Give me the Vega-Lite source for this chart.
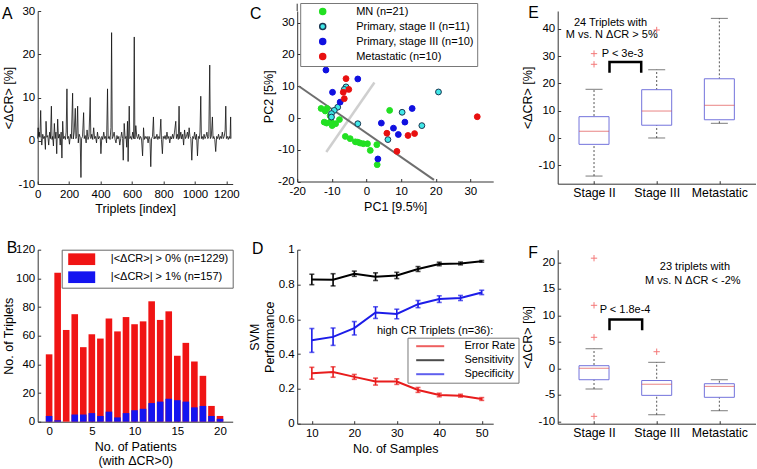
{
"$schema": "https://vega.github.io/schema/vega-lite/v6.json",
"padding": {"left": 1.7, "top": 2, "right": 0, "bottom": 0},
"autosize": {"type": "pad"},
"config": {
  "font": "Liberation Sans",
  "locale": {"number": {"decimal": ".", "thousands": ",", "grouping": [3], "currency": ["$", ""], "minus": "-"}},
  "view": {"stroke": null},
  "axis": {"grid": false, "domainColor": "#333", "tickColor": "#333", "labelColor": "#000", "titleColor": "#000", "labelFontSize": 11.5, "titleFontSize": 12.5, "titleFontWeight": "normal", "tickSize": -3, "labelPadding": 7, "titlePadding": 3, "labelFlush": false, "labelOverlap": false, "labelBound": false, "labelFont": "Liberation Sans", "titleFont": "Liberation Sans"},
  "axisY": {"labelPadding": 6},
  "legend": {"labelFont": "Liberation Sans", "labelFontSize": 11, "labelColor": "#000"},
  "text": {"font": "Liberation Sans", "color": "#000"}
},
"datasets": {
  "one": [{}],
  "a": [
    {"i":0,"v":0.5},{"i":3,"v":3},{"i":6,"v":1},{"i":10,"v":2},{"i":14,"v":0.8},{"i":19,"v":7},{"i":23,"v":0.5},{"i":26,"v":-1},{"i":32,"v":1.5},{"i":38,"v":0.5},{"i":44,"v":1},{"i":49,"v":-2},{"i":53,"v":4.5},{"i":58,"v":0.8},{"i":64,"v":1.2},{"i":70,"v":-1},{"i":76,"v":2},{"i":81,"v":0.5},{"i":87,"v":8},{"i":91,"v":0.3},{"i":95,"v":1},{"i":100,"v":-1.2},{"i":106,"v":4},{"i":111,"v":0.5},{"i":116,"v":2},{"i":121,"v":-3},{"i":127,"v":5},{"i":132,"v":0.6},{"i":138,"v":1.5},{"i":143,"v":-1},{"i":149,"v":2},{"i":154,"v":-4},{"i":159,"v":4.5},{"i":164,"v":0.5},{"i":170,"v":1},{"i":176,"v":0.3},{"i":181,"v":2},{"i":186,"v":12},{"i":190,"v":0.5},{"i":196,"v":1},{"i":202,"v":-0.8},{"i":208,"v":1.5},{"i":214,"v":0.5},{"i":222,"v":11},{"i":226,"v":0.4},{"i":232,"v":2},{"i":239,"v":7.5},{"i":243,"v":0.5},{"i":248,"v":1},{"i":254,"v":8},{"i":258,"v":-0.5},{"i":264,"v":1.5},{"i":270,"v":0.8},{"i":275,"v":-8.5},{"i":279,"v":0.5},{"i":285,"v":1},{"i":292,"v":6.5},{"i":296,"v":0.5},{"i":302,"v":1.2},{"i":308,"v":-0.5},{"i":314,"v":2.5},{"i":320,"v":0.3},{"i":326,"v":1},{"i":334,"v":10},{"i":338,"v":0.5},{"i":344,"v":1.5},{"i":350,"v":0.3},{"i":356,"v":3},{"i":362,"v":0.5},{"i":368,"v":1},{"i":374,"v":-0.5},{"i":380,"v":2},{"i":386,"v":0.4},{"i":392,"v":1},{"i":398,"v":0.5},{"i":402,"v":-3},{"i":408,"v":1},{"i":414,"v":0.3},{"i":420,"v":2},{"i":426,"v":0.5},{"i":432,"v":1},{"i":438,"v":-0.5},{"i":444,"v":12},{"i":448,"v":0.5},{"i":454,"v":1},{"i":460,"v":0.3},{"i":466,"v":3},{"i":470,"v":25},{"i":474,"v":0.5},{"i":480,"v":1},{"i":486,"v":2},{"i":492,"v":0.3},{"i":498,"v":-0.5},{"i":504,"v":1.2},{"i":510,"v":0.4},{"i":516,"v":1},{"i":522,"v":-1},{"i":528,"v":0.5},{"i":534,"v":2},{"i":540,"v":0.5},{"i":544,"v":-4.5},{"i":550,"v":4},{"i":556,"v":0.5},{"i":562,"v":1},{"i":566,"v":-1.5},{"i":571,"v":4.5},{"i":575,"v":-4.8},{"i":582,"v":8},{"i":586,"v":0.5},{"i":592,"v":1},{"i":598,"v":0.3},{"i":604,"v":2},{"i":610,"v":0.5},{"i":614,"v":24},{"i":618,"v":0.4},{"i":624,"v":3.5},{"i":630,"v":1},{"i":636,"v":0.5},{"i":642,"v":1.5},{"i":648,"v":0.3},{"i":654,"v":1},{"i":660,"v":0.5},{"i":667,"v":-3.5},{"i":673,"v":3},{"i":678,"v":0.3},{"i":684,"v":1},{"i":690,"v":0.5},{"i":696,"v":1},{"i":702,"v":-0.5},{"i":708,"v":1},{"i":714,"v":0.3},{"i":719,"v":-6},{"i":724,"v":0.5},{"i":730,"v":1},{"i":736,"v":5.5},{"i":740,"v":0.4},{"i":746,"v":1},{"i":752,"v":0.5},{"i":758,"v":1.5},{"i":764,"v":0.3},{"i":770,"v":1},{"i":776,"v":0.5},{"i":783,"v":5},{"i":787,"v":0.3},{"i":793,"v":-3},{"i":798,"v":1},{"i":804,"v":0.5},{"i":810,"v":1.2},{"i":816,"v":0.3},{"i":822,"v":2},{"i":828,"v":0.5},{"i":834,"v":1},{"i":840,"v":-0.5},{"i":846,"v":1},{"i":852,"v":0.4},{"i":858,"v":1.5},{"i":864,"v":0.5},{"i":870,"v":2},{"i":878,"v":4.5},{"i":882,"v":0.5},{"i":888,"v":1.5},{"i":894,"v":0.3},{"i":899,"v":8},{"i":903,"v":0.5},{"i":910,"v":2},{"i":916,"v":0.4},{"i":922,"v":1.5},{"i":928,"v":-1},{"i":934,"v":2.5},{"i":940,"v":0.5},{"i":946,"v":1},{"i":952,"v":2},{"i":958,"v":0.5},{"i":963,"v":3},{"i":968,"v":1},{"i":974,"v":0.5},{"i":980,"v":-4.5},{"i":986,"v":1},{"i":992,"v":0.5},{"i":998,"v":2},{"i":1004,"v":0.3},{"i":1010,"v":1.5},{"i":1016,"v":-3.5},{"i":1022,"v":1},{"i":1028,"v":0.5},{"i":1032,"v":2},{"i":1037,"v":10.3},{"i":1041,"v":0.5},{"i":1046,"v":1},{"i":1052,"v":0.3},{"i":1058,"v":1.5},{"i":1064,"v":0.5},{"i":1070,"v":1},{"i":1076,"v":2},{"i":1082,"v":0.5},{"i":1088,"v":1},{"i":1094,"v":17.5},{"i":1098,"v":0.5},{"i":1104,"v":1},{"i":1111,"v":5.5},{"i":1115,"v":0.5},{"i":1120,"v":1},{"i":1126,"v":0.3},{"i":1132,"v":-2.5},{"i":1138,"v":1},{"i":1144,"v":0.5},{"i":1150,"v":1.5},{"i":1156,"v":0.3},{"i":1162,"v":1},{"i":1168,"v":0.5},{"i":1174,"v":2},{"i":1180,"v":0.5},{"i":1186,"v":1},{"i":1192,"v":2.5},{"i":1196,"v":8},{"i":1200,"v":0.5},{"i":1206,"v":1},{"i":1212,"v":0.3},{"i":1218,"v":1},{"i":1223,"v":0.5},{"i":1227,"v":5.5},{"i":1229,"v":0.5}
  ],
  "b": [
    {"p":0,"g":"|<ΔCR>| > 0% (n=1229)","n":47},{"p":1,"g":"|<ΔCR>| > 0% (n=1229)","n":104},{"p":2,"g":"|<ΔCR>| > 0% (n=1229)","n":64},{"p":3,"g":"|<ΔCR>| > 0% (n=1229)","n":75},{"p":4,"g":"|<ΔCR>| > 0% (n=1229)","n":52},{"p":5,"g":"|<ΔCR>| > 0% (n=1229)","n":61},{"p":6,"g":"|<ΔCR>| > 0% (n=1229)","n":58},{"p":7,"g":"|<ΔCR>| > 0% (n=1229)","n":72},{"p":8,"g":"|<ΔCR>| > 0% (n=1229)","n":63},{"p":9,"g":"|<ΔCR>| > 0% (n=1229)","n":73},{"p":10,"g":"|<ΔCR>| > 0% (n=1229)","n":68},{"p":11,"g":"|<ΔCR>| > 0% (n=1229)","n":70},{"p":12,"g":"|<ΔCR>| > 0% (n=1229)","n":84},{"p":13,"g":"|<ΔCR>| > 0% (n=1229)","n":71},{"p":14,"g":"|<ΔCR>| > 0% (n=1229)","n":77},{"p":15,"g":"|<ΔCR>| > 0% (n=1229)","n":46},{"p":16,"g":"|<ΔCR>| > 0% (n=1229)","n":55},{"p":17,"g":"|<ΔCR>| > 0% (n=1229)","n":42},{"p":18,"g":"|<ΔCR>| > 0% (n=1229)","n":32},{"p":19,"g":"|<ΔCR>| > 0% (n=1229)","n":11},{"p":20,"g":"|<ΔCR>| > 0% (n=1229)","n":4},
    {"p":0,"g":"|<ΔCR>| > 1% (n=157)","n":4},{"p":1,"g":"|<ΔCR>| > 1% (n=157)","n":1},{"p":2,"g":"|<ΔCR>| > 1% (n=157)","n":0},{"p":3,"g":"|<ΔCR>| > 1% (n=157)","n":5},{"p":4,"g":"|<ΔCR>| > 1% (n=157)","n":5},{"p":5,"g":"|<ΔCR>| > 1% (n=157)","n":6},{"p":6,"g":"|<ΔCR>| > 1% (n=157)","n":4},{"p":7,"g":"|<ΔCR>| > 1% (n=157)","n":7},{"p":8,"g":"|<ΔCR>| > 1% (n=157)","n":3},{"p":9,"g":"|<ΔCR>| > 1% (n=157)","n":6},{"p":10,"g":"|<ΔCR>| > 1% (n=157)","n":8},{"p":11,"g":"|<ΔCR>| > 1% (n=157)","n":9},{"p":12,"g":"|<ΔCR>| > 1% (n=157)","n":13},{"p":13,"g":"|<ΔCR>| > 1% (n=157)","n":14},{"p":14,"g":"|<ΔCR>| > 1% (n=157)","n":16},{"p":15,"g":"|<ΔCR>| > 1% (n=157)","n":15},{"p":16,"g":"|<ΔCR>| > 1% (n=157)","n":14},{"p":17,"g":"|<ΔCR>| > 1% (n=157)","n":10},{"p":18,"g":"|<ΔCR>| > 1% (n=157)","n":11},{"p":19,"g":"|<ΔCR>| > 1% (n=157)","n":4},{"p":20,"g":"|<ΔCR>| > 1% (n=157)","n":2}
  ],
  "c": [
    {"x":-13.1,"y":3.0,"g":"MN (n=21)"},{"x":-11.4,"y":3.0,"g":"MN (n=21)"},{"x":-10.5,"y":0.7,"g":"MN (n=21)"},{"x":-12.2,"y":-1.3,"g":"MN (n=21)"},{"x":-11.5,"y":-1.6,"g":"MN (n=21)"},{"x":-9.9,"y":-2.4,"g":"MN (n=21)"},{"x":-10.2,"y":-1.0,"g":"MN (n=21)"},{"x":-7.8,"y":-0.5,"g":"MN (n=21)"},{"x":-6.1,"y":-5.8,"g":"MN (n=21)"},{"x":-4.7,"y":-6.5,"g":"MN (n=21)"},{"x":-3.2,"y":-7.5,"g":"MN (n=21)"},{"x":-1.8,"y":-7.9,"g":"MN (n=21)"},{"x":-0.9,"y":-8.1,"g":"MN (n=21)"},{"x":0.3,"y":-8.1,"g":"MN (n=21)"},{"x":1.1,"y":-10.2,"g":"MN (n=21)"},{"x":3.0,"y":-8.4,"g":"MN (n=21)"},{"x":3.1,"y":-14.7,"g":"MN (n=21)"},{"x":6.7,"y":2.4,"g":"MN (n=21)"},{"x":-11.9,"y":2.2,"g":"MN (n=21)"},{"x":-2.5,"y":-7.6,"g":"MN (n=21)"},{"x":-8.9,"y":-1.8,"g":"MN (n=21)"},
    {"x":-5.9,"y":9.8,"g":"Primary, stage II (n=11)"},{"x":-6.4,"y":9.0,"g":"Primary, stage II (n=11)"},{"x":-8.3,"y":3.4,"g":"Primary, stage II (n=11)"},{"x":-9.3,"y":2.4,"g":"Primary, stage II (n=11)"},{"x":-10.1,"y":1.4,"g":"Primary, stage II (n=11)"},{"x":-10.1,"y":0.3,"g":"Primary, stage II (n=11)"},{"x":-2.5,"y":-1.8,"g":"Primary, stage II (n=11)"},{"x":6.2,"y":-6.8,"g":"Primary, stage II (n=11)"},{"x":20.8,"y":8.2,"g":"Primary, stage II (n=11)"},{"x":10.3,"y":1.8,"g":"Primary, stage II (n=11)"},{"x":16.0,"y":-2.4,"g":"Primary, stage II (n=11)"},
    {"x":-11.7,"y":15.1,"g":"Primary, stage III (n=10)"},{"x":-2.5,"y":12.3,"g":"Primary, stage III (n=10)"},{"x":-9.8,"y":8.1,"g":"Primary, stage III (n=10)"},{"x":-7.6,"y":5.0,"g":"Primary, stage III (n=10)"},{"x":3.3,"y":-12.9,"g":"Primary, stage III (n=10)"},{"x":13.2,"y":3.0,"g":"Primary, stage III (n=10)"},{"x":4.3,"y":-1.6,"g":"Primary, stage III (n=10)"},{"x":11.1,"y":-1.3,"g":"Primary, stage III (n=10)"},{"x":7.8,"y":-3.2,"g":"Primary, stage III (n=10)"},{"x":9.2,"y":-5.2,"g":"Primary, stage III (n=10)"},
    {"x":-5.9,"y":12.4,"g":"Metastatic (n=10)"},{"x":-5.1,"y":9.0,"g":"Metastatic (n=10)"},{"x":-6.7,"y":8.1,"g":"Metastatic (n=10)"},{"x":-6.4,"y":6.1,"g":"Metastatic (n=10)"},{"x":30.3,"y":28.7,"g":"Metastatic (n=10)"},{"x":32.0,"y":0.4,"g":"Metastatic (n=10)"},{"x":5.9,"y":-4.8,"g":"Metastatic (n=10)"},{"x":12.0,"y":-5.5,"g":"Metastatic (n=10)"},{"x":13.9,"y":-4.9,"g":"Metastatic (n=10)"},{"x":8.8,"y":-10.5,"g":"Metastatic (n=10)"}
  ],
  "clines": [
    {"line":"dark","x":-19.5,"y":10},{"line":"dark","x":19.5,"y":-19.5},
    {"line":"light","x":-11.6,"y":-10.7},{"line":"light","x":2.3,"y":11.2}
  ],
  "d": [
    {"n":10,"m":"Error Rate","v":0.29,"lo":0.256,"hi":0.324},{"n":15,"m":"Error Rate","v":0.297,"lo":0.267,"hi":0.327},{"n":20,"m":"Error Rate","v":0.269,"lo":0.255,"hi":0.283},{"n":25,"m":"Error Rate","v":0.242,"lo":0.222,"hi":0.262},{"n":30,"m":"Error Rate","v":0.242,"lo":0.226,"hi":0.258},{"n":35,"m":"Error Rate","v":0.194,"lo":0.18,"hi":0.208},{"n":40,"m":"Error Rate","v":0.165,"lo":0.155,"hi":0.175},{"n":45,"m":"Error Rate","v":0.161,"lo":0.153,"hi":0.169},{"n":50,"m":"Error Rate","v":0.142,"lo":0.134,"hi":0.15},
    {"n":10,"m":"Sensitivity","v":0.829,"lo":0.799,"hi":0.859},{"n":15,"m":"Sensitivity","v":0.827,"lo":0.792,"hi":0.862},{"n":20,"m":"Sensitivity","v":0.862,"lo":0.847,"hi":0.877},{"n":25,"m":"Sensitivity","v":0.845,"lo":0.823,"hi":0.867},{"n":30,"m":"Sensitivity","v":0.852,"lo":0.834,"hi":0.87},{"n":35,"m":"Sensitivity","v":0.889,"lo":0.875,"hi":0.903},{"n":40,"m":"Sensitivity","v":0.918,"lo":0.908,"hi":0.928},{"n":45,"m":"Sensitivity","v":0.921,"lo":0.913,"hi":0.929},{"n":50,"m":"Sensitivity","v":0.933,"lo":0.928,"hi":0.938},
    {"n":10,"m":"Specificity","v":0.48,"lo":0.41,"hi":0.547},{"n":15,"m":"Specificity","v":0.499,"lo":0.45,"hi":0.55},{"n":20,"m":"Specificity","v":0.549,"lo":0.51,"hi":0.587},{"n":25,"m":"Specificity","v":0.639,"lo":0.605,"hi":0.672},{"n":30,"m":"Specificity","v":0.631,"lo":0.603,"hi":0.658},{"n":35,"m":"Specificity","v":0.687,"lo":0.667,"hi":0.708},{"n":40,"m":"Specificity","v":0.716,"lo":0.697,"hi":0.735},{"n":45,"m":"Specificity","v":0.722,"lo":0.708,"hi":0.737},{"n":50,"m":"Specificity","v":0.754,"lo":0.742,"hi":0.767}
  ],
  "dnote": [{"x":52.7,"y":0.533,"t":"high CR Triplets (n=36):"}],
  "e": [
    {"pos":1,"lw":-13.9,"q1":-2.3,"med":2.47,"q3":7.83,"uw":17.85},
    {"pos":2,"lw":0.03,"q1":4.7,"med":9.9,"q3":17.7,"uw":25.0},
    {"pos":3,"lw":5.4,"q1":6.7,"med":12.0,"q3":21.7,"uw":43.8}
  ],
  "eout": [{"pos":1,"v":30.9},{"pos":1,"v":27.0},{"pos":2,"v":39.55}],
  "enote": [{"x":1.263,"y":42.2,"t":"24 Triplets with"},{"x":1.283,"y":37.6,"t":"M vs. N ΔCR > 5%"},{"x":1.455,"y":30.65,"t":"P < 3e-3"}],
  "ebr": [{"x":1.247,"y":23.9,"k":1},{"x":1.247,"y":27.84,"k":2},{"x":1.753,"y":27.84,"k":3},{"x":1.753,"y":23.9,"k":4}],
  "f": [
    {"pos":1,"lw":-3.9,"q1":-2.15,"med":0.0,"q3":0.5,"uw":3.7},
    {"pos":2,"lw":-8.76,"q1":-5.1,"med":-3.0,"q3":-2.3,"uw":1.14},
    {"pos":3,"lw":-8.0,"q1":-5.47,"med":-3.4,"q3":-2.9,"uw":-2.15}
  ],
  "fout": [{"pos":1,"v":20.8},{"pos":1,"v":11.9},{"pos":1,"v":5.86},{"pos":1,"v":-9.06},{"pos":2,"v":3.14}],
  "fnote": [{"x":2.61,"y":19.07,"t":"23 triplets with"},{"x":2.576,"y":16.43,"t":"M vs. N ΔCR < -2%"},{"x":1.495,"y":10.95,"t":"P < 1.8e-4"}],
  "fbr": [{"x":1.247,"y":7.17,"k":1},{"x":1.247,"y":9.2,"k":2},{"x":1.768,"y":9.2,"k":3},{"x":1.768,"y":7.17,"k":4}]
},
"concat": [
  {
    "width": 195, "height": 173,
    "resolve": {"axis": {"x": "independent", "y": "independent"}},
    "layer": [
      {
        "data": {"name": "a"},
        "mark": {"type": "line", "color": "#111", "strokeWidth": 0.8},
        "encoding": {
          "x": {"field": "i", "type": "quantitative", "scale": {"domain": [0, 1240], "nice": false, "zero": false}, "axis": {"title": "Triplets [index]", "values": [0,200,400,600,800,1000,1200], "format": "d", "labelOverlap": false}},
          "y": {"field": "v", "type": "quantitative", "scale": {"domain": [-10, 30], "nice": false}, "axis": {"title": "<ΔCR> [%]", "values": [-10,0,10,20,30], "labelOverlap": false, "titlePadding": 2.5}}
        }
      },
      {
        "data": {"name": "one"},
        "mark": {"type": "text", "text": "A", "align": "left", "baseline": "alphabetic", "fontSize": 15.8},
        "encoding": {"x": {"datum": -226.4, "type": "quantitative", "axis": null}, "y": {"datum": 28.08, "type": "quantitative", "axis": null}}
      }
    ]
  },
  {
    "width": 196, "height": 170.5,
    "resolve": {"axis": {"x": "independent", "y": "independent"}},
    "layer": [
      {
        "data": {"name": "clines"},
        "transform": [{"filter": "datum.line == 'light'"}],
        "mark": {"type": "line", "color": "#cfcfcf", "strokeWidth": 2.5},
        "encoding": {
          "x": {"field": "x", "type": "quantitative", "scale": {"domain": [-20, 36.6], "nice": false, "zero": false}, "axis": {"title": "PC1 [9.5%]", "values": [-20,-10,0,10,20,30], "labelOverlap": false}},
          "y": {"field": "y", "type": "quantitative", "scale": {"domain": [-20, 33.7], "nice": false, "zero": false}, "axis": {"title": "PC2 [5%]", "values": [-20,-10,0,10,20,30], "labelOverlap": false, "titlePadding": 2.4}}
        }
      },
      {
        "data": {"name": "one"},
        "mark": {"type": "rule", "color": "#333", "strokeWidth": 1},
        "encoding": {"x": {"datum": -20, "type": "quantitative", "axis": null}, "y": {"datum": 33.7, "type": "quantitative", "axis": null}, "y2": {"datum": 36}}
      },
      {
        "data": {"name": "clines"},
        "transform": [{"filter": "datum.line == 'dark'"}],
        "mark": {"type": "line", "color": "#6e6e6e", "strokeWidth": 2},
        "encoding": {
          "x": {"field": "x", "type": "quantitative", "axis": null},
          "y": {"field": "y", "type": "quantitative", "axis": null}
        }
      },
      {
        "data": {"name": "c"},
        "mark": {"type": "point", "filled": true, "size": 34, "strokeWidth": 1, "opacity": 1},
        "encoding": {
          "x": {"field": "x", "type": "quantitative", "axis": null},
          "y": {"field": "y", "type": "quantitative", "axis": null},
          "fill": {"field": "g", "type": "nominal", "scale": {"domain": ["MN (n=21)", "Primary, stage II (n=11)", "Primary, stage III (n=10)", "Metastatic (n=10)"], "range": ["#22e022", "#40e8e8", "#1010e0", "#e81010"]},
            "legend": {"orient": "none", "legendX": 3, "legendY": -8, "title": null, "strokeColor": "#777", "fillColor": "white", "padding": 3, "rowPadding": 2, "symbolSize": 36, "symbolOffset": 14, "labelOffset": 28, "labelFontSize": 11}},
          "stroke": {"field": "g", "type": "nominal", "scale": {"domain": ["MN (n=21)", "Primary, stage II (n=11)", "Primary, stage III (n=10)", "Metastatic (n=10)"], "range": ["#22e022", "#1a3550", "#1010e0", "#e81010"]},
            "legend": {"orient": "none", "legendX": 3, "legendY": -8, "title": null, "strokeColor": "#777", "fillColor": "white", "padding": 3, "rowPadding": 2, "symbolSize": 36, "symbolOffset": 14, "labelOffset": 28, "labelFontSize": 11}}
        }
      },
      {
        "data": {"name": "one"},
        "mark": {"type": "text", "text": "C", "align": "left", "baseline": "alphabetic", "fontSize": 15.8},
        "encoding": {"x": {"datum": -33.6, "type": "quantitative", "axis": null}, "y": {"datum": 31.08, "type": "quantitative", "axis": null}}
      }
    ]
  },
  {
    "width": 198, "height": 172.7,
    "resolve": {"axis": {"x": "independent", "y": "independent"}},
    "layer": [
      {
        "data": {"name": "e"},
        "mark": {"type": "rule", "color": "#555", "strokeDash": [2, 2], "strokeWidth": 1},
        "encoding": {
          "x": {"field": "pos", "type": "quantitative", "scale": {"domain": [0.5, 3.5], "nice": false, "zero": false}, "axis": {"title": null, "values": [1,2,3], "labelOverlap": false, "labelPadding": 6, "labelExpr": "datum.value == 1 ? 'Stage II' : datum.value == 2 ? 'Stage III' : 'Metastatic'", "labelFontSize": 12.3}},
          "y": {"field": "lw", "type": "quantitative", "scale": {"domain": [-16.7, 46.5], "nice": false, "zero": false}, "axis": {"title": "<ΔCR> [%]", "values": [-10,0,10,20,30,40], "labelOverlap": false, "titlePadding": 3.5}},
          "y2": {"field": "uw"}
        }
      },
      {
        "data": {"name": "e"},
        "mark": {"type": "bar", "width": 30, "fill": "white", "stroke": "#7272dc", "strokeWidth": 1},
        "encoding": {
          "x": {"field": "pos", "type": "quantitative", "axis": null},
          "y": {"field": "q1", "type": "quantitative", "axis": null},
          "y2": {"field": "q3"}
        }
      },
      {
        "data": {"name": "e"},
        "mark": {"type": "tick", "orient": "horizontal", "size": 30, "thickness": 1, "color": "#e05050"},
        "encoding": {"x": {"field": "pos", "type": "quantitative", "axis": null}, "y": {"field": "med", "type": "quantitative", "axis": null}}
      },
      {
        "data": {"name": "e"},
        "mark": {"type": "tick", "orient": "horizontal", "size": 17, "thickness": 1, "color": "#444"},
        "encoding": {"x": {"field": "pos", "type": "quantitative", "axis": null}, "y": {"field": "uw", "type": "quantitative", "axis": null}}
      },
      {
        "data": {"name": "e"},
        "mark": {"type": "tick", "orient": "horizontal", "size": 17, "thickness": 1, "color": "#444"},
        "encoding": {"x": {"field": "pos", "type": "quantitative", "axis": null}, "y": {"field": "lw", "type": "quantitative", "axis": null}}
      },
      {
        "data": {"name": "eout"},
        "mark": {"type": "point", "shape": "M-1,0L1,0M0,-1L0,1", "filled": false, "size": 40, "stroke": "#f04040", "strokeWidth": 1},
        "encoding": {"x": {"field": "pos", "type": "quantitative", "axis": null}, "y": {"field": "v", "type": "quantitative", "axis": null}}
      },
      {
        "data": {"name": "ebr"},
        "mark": {"type": "line", "color": "#000", "strokeWidth": 2.5},
        "encoding": {"x": {"field": "x", "type": "quantitative", "axis": null}, "y": {"field": "y", "type": "quantitative", "axis": null}, "order": {"field": "k"}}
      },
      {
        "data": {"name": "enote"},
        "mark": {"type": "text", "align": "center", "baseline": "middle", "fontSize": 11},
        "encoding": {"x": {"field": "x", "type": "quantitative", "axis": null}, "y": {"field": "y", "type": "quantitative", "axis": null}, "text": {"field": "t"}}
      },
      {
        "data": {"name": "one"},
        "mark": {"type": "text", "text": "E", "align": "left", "baseline": "alphabetic", "fontSize": 15.8},
        "encoding": {"x": {"datum": -0.05, "type": "quantitative", "axis": null}, "y": {"datum": 44.05, "type": "quantitative", "axis": null}}
      }
    ]
  },
  {
    "width": 195, "height": 172,
    "resolve": {"axis": {"x": "independent", "y": "independent"}},
    "layer": [
      {
        "data": {"name": "b"},
        "mark": {"type": "bar", "width": 6.6},
        "encoding": {
          "x": {"field": "p", "type": "quantitative", "scale": {"domain": [-0.75, 20.9], "nice": false, "zero": false}, "axis": {"title": ["No. of Patients", "(with ΔCR>0)"], "values": [0,5,10,15,20], "labelOverlap": false}},
          "y": {"field": "n", "type": "quantitative", "stack": null, "scale": {"domain": [0, 120], "nice": false}, "axis": {"title": "No. of Triplets", "values": [0,20,40,60,80,100,120], "labelOverlap": false, "titlePadding": 0.5}},
          "color": {"field": "g", "type": "nominal", "scale": {"domain": ["|<ΔCR>| > 0% (n=1229)", "|<ΔCR>| > 1% (n=157)"], "range": ["#f01414", "#1414f0"]},
            "legend": {"orient": "top-right", "offset": 0, "title": null, "strokeColor": "#666", "fillColor": "white", "padding": 4, "symbolType": "M-4.5,-1.95L4.5,-1.95L4.5,1.95L-4.5,1.95Z", "symbolSize": 36, "symbolStrokeWidth": 0, "symbolOffset": 10.5, "labelOffset": 23.6, "rowPadding": 5, "labelFontSize": 11}}
        }
      },
      {
        "data": {"name": "one"},
        "mark": {"type": "text", "text": "B", "align": "left", "baseline": "alphabetic", "fontSize": 15.8},
        "encoding": {"x": {"datum": -4.95, "type": "quantitative", "axis": null}, "y": {"datum": 117.6, "type": "quantitative", "axis": null}}
      }
    ]
  },
  {
    "width": 196, "height": 174,
    "resolve": {"axis": {"x": "independent", "y": "independent"}},
    "layer": [
      {
        "data": {"name": "d"},
        "mark": {"type": "line", "strokeWidth": 2},
        "encoding": {
          "x": {"field": "n", "type": "quantitative", "scale": {"domain": [6.55, 52.7], "nice": false, "zero": false}, "axis": {"title": "No. of Samples", "values": [10,20,30,40,50], "labelOverlap": false}},
          "y": {"field": "v", "type": "quantitative", "scale": {"domain": [0, 1], "nice": false}, "axis": {"title": ["SVM", "Performance"], "values": [0,0.2,0.4,0.6,0.8,1], "format": ".1~f", "labelOverlap": false, "titlePadding": 2}},
          "color": {"field": "m", "type": "nominal", "scale": {"domain": ["Error Rate", "Sensitivity", "Specificity"], "range": ["#e81c1c", "#000000", "#1c1ce8"]},
            "legend": {"orient": "none", "legendX": 110.3, "legendY": 88, "title": null, "strokeColor": "#777", "fillColor": "white", "padding": 3, "rowPadding": 2, "symbolType": "M-4.67,0L4.67,0", "symbolSize": 36, "symbolStrokeWidth": 2, "symbolOffset": 14.2, "labelOffset": 28.7, "labelFontSize": 11}}
        }
      },
      {
        "data": {"name": "d"},
        "mark": {"type": "errorbar", "ticks": {"size": 5}, "thickness": 1.6},
        "encoding": {
          "x": {"field": "n", "type": "quantitative", "axis": null},
          "y": {"field": "lo", "type": "quantitative", "axis": null},
          "y2": {"field": "hi"},
          "color": {"field": "m", "type": "nominal"}
        }
      },
      {
        "data": {"name": "dnote"},
        "mark": {"type": "text", "align": "right", "baseline": "middle", "fontSize": 11},
        "encoding": {
          "x": {"field": "x", "type": "quantitative", "axis": null},
          "y": {"field": "y", "type": "quantitative", "axis": null},
          "text": {"field": "t"}
        }
      },
      {
        "data": {"name": "one"},
        "mark": {"type": "text", "text": "D", "align": "left", "baseline": "alphabetic", "fontSize": 15.8},
        "encoding": {"x": {"datum": -4.09, "type": "quantitative", "axis": null}, "y": {"datum": 0.974, "type": "quantitative", "axis": null}}
      }
    ]
  },
  {
    "width": 198, "height": 174,
    "resolve": {"axis": {"x": "independent", "y": "independent"}},
    "layer": [
      {
        "data": {"name": "f"},
        "mark": {"type": "rule", "color": "#555", "strokeDash": [2, 2], "strokeWidth": 1},
        "encoding": {
          "x": {"field": "pos", "type": "quantitative", "scale": {"domain": [0.5, 3.5], "nice": false, "zero": false}, "axis": {"title": null, "values": [1,2,3], "labelOverlap": false, "labelPadding": 6, "labelExpr": "datum.value == 1 ? 'Stage II' : datum.value == 2 ? 'Stage III' : 'Metastatic'", "labelFontSize": 12.3}},
          "y": {"field": "lw", "type": "quantitative", "scale": {"domain": [-10.45, 22.4], "nice": false, "zero": false}, "axis": {"title": "<ΔCR> [%]", "values": [-10,-5,0,5,10,15,20], "labelOverlap": false, "titlePadding": 3.5}},
          "y2": {"field": "uw"}
        }
      },
      {
        "data": {"name": "f"},
        "mark": {"type": "bar", "width": 30, "fill": "white", "stroke": "#7272dc", "strokeWidth": 1},
        "encoding": {
          "x": {"field": "pos", "type": "quantitative", "axis": null},
          "y": {"field": "q1", "type": "quantitative", "axis": null},
          "y2": {"field": "q3"}
        }
      },
      {
        "data": {"name": "f"},
        "mark": {"type": "tick", "orient": "horizontal", "size": 30, "thickness": 1, "color": "#e05050"},
        "encoding": {"x": {"field": "pos", "type": "quantitative", "axis": null}, "y": {"field": "med", "type": "quantitative", "axis": null}}
      },
      {
        "data": {"name": "f"},
        "mark": {"type": "tick", "orient": "horizontal", "size": 17, "thickness": 1, "color": "#444"},
        "encoding": {"x": {"field": "pos", "type": "quantitative", "axis": null}, "y": {"field": "uw", "type": "quantitative", "axis": null}}
      },
      {
        "data": {"name": "f"},
        "mark": {"type": "tick", "orient": "horizontal", "size": 17, "thickness": 1, "color": "#444"},
        "encoding": {"x": {"field": "pos", "type": "quantitative", "axis": null}, "y": {"field": "lw", "type": "quantitative", "axis": null}}
      },
      {
        "data": {"name": "fout"},
        "mark": {"type": "point", "shape": "M-1,0L1,0M0,-1L0,1", "filled": false, "size": 40, "stroke": "#f04040", "strokeWidth": 1},
        "encoding": {"x": {"field": "pos", "type": "quantitative", "axis": null}, "y": {"field": "v", "type": "quantitative", "axis": null}}
      },
      {
        "data": {"name": "fbr"},
        "mark": {"type": "line", "color": "#000", "strokeWidth": 2.5},
        "encoding": {"x": {"field": "x", "type": "quantitative", "axis": null}, "y": {"field": "y", "type": "quantitative", "axis": null}, "order": {"field": "k"}}
      },
      {
        "data": {"name": "fnote"},
        "mark": {"type": "text", "align": "center", "baseline": "middle", "fontSize": 11},
        "encoding": {"x": {"field": "x", "type": "quantitative", "axis": null}, "y": {"field": "y", "type": "quantitative", "axis": null}, "text": {"field": "t"}}
      },
      {
        "data": {"name": "one"},
        "mark": {"type": "text", "text": "F", "align": "left", "baseline": "alphabetic", "fontSize": 15.8},
        "encoding": {"x": {"datum": -0.05, "type": "quantitative", "axis": null}, "y": {"datum": 20.83, "type": "quantitative", "axis": null}}
      }
    ]
  }
],
"columns": 3,
"spacing": {"row": 65.7, "column": 64.5},
"bounds": "flush",
"center": false,
"resolve": {"scale": {"color": "independent", "fill": "independent", "stroke": "independent", "x": "independent", "y": "independent"}, "legend": {"color": "independent", "fill": "independent", "stroke": "independent"}}
}
